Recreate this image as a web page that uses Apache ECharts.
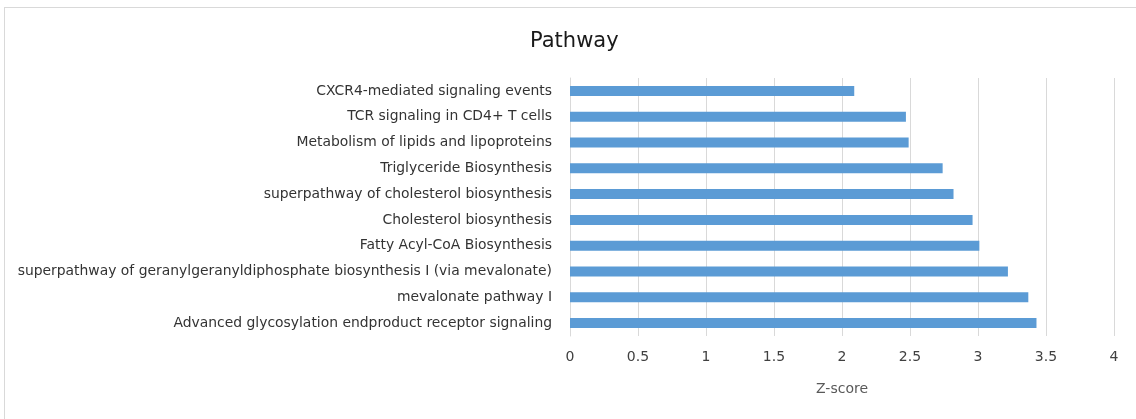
<!DOCTYPE html>
<html><head><meta charset="utf-8">
<script src="https://cdn.jsdelivr.net/npm/echarts@6/dist/echarts.min.js"></script>
<style>
html,body{margin:0;padding:0;background:#fff;overflow:hidden}
#frame{position:absolute;left:4px;top:7px;width:1140px;height:420px;border:1px solid #d9d9d9;box-sizing:border-box}
#chart{position:absolute;left:0;top:0;width:1136px;height:419px}
</style></head>
<body>
<div id="frame"></div>
<div id="chart"></div>
<script>
const categories = [
  "CXCR4-mediated signaling events",
  "TCR signaling in CD4+ T cells",
  "Metabolism of lipids and lipoproteins",
  "Triglyceride Biosynthesis",
  "superpathway of cholesterol biosynthesis",
  "Cholesterol biosynthesis",
  "Fatty Acyl-CoA Biosynthesis",
  "superpathway of geranylgeranyldiphosphate biosynthesis I (via mevalonate)",
  "mevalonate pathway I",
  "Advanced glycosylation endproduct receptor signaling"
];
const zScores = [2.09, 2.47, 2.49, 2.74, 2.82, 2.96, 3.01, 3.22, 3.37, 3.43];
const xTicks = { min: 0, max: 4, interval: 0.5 };

const font = '"DejaVu Sans", "Noto Sans", sans-serif';
const chart = echarts.init(document.getElementById('chart'));
chart.setOption({
  animation: false,
  backgroundColor: 'transparent',
  title: {
    text: 'Pathway', left: 525, top: 26,
    textStyle: { fontFamily: font, fontSize: 21, fontWeight: 'normal', color: '#1a1a1a' }
  },
  grid: { left: 570, right: 22, top: 78, bottom: 83 },
  xAxis: {
    type: 'value', min: xTicks.min, max: xTicks.max, interval: xTicks.interval,
    name: 'Z-score', nameLocation: 'middle', nameGap: 46,
    nameTextStyle: { fontFamily: font, fontSize: 14, color: '#595959' },
    axisLine: { show: false }, axisTick: { show: false },
    axisLabel: { fontFamily: font, fontSize: 14, color: '#404040', margin: 14 },
    splitLine: { show: true, lineStyle: { color: '#d9d9d9', width: 1 } }
  },
  yAxis: {
    type: 'category', data: categories, inverse: true,
    axisLine: { show: true, lineStyle: { color: '#d9d9d9' } },
    axisTick: { show: false },
    axisLabel: { fontFamily: font, fontSize: 13.9, color: '#333333', margin: 18 }
  },
  series: [{
    type: 'bar', data: zScores, barWidth: 10,
    itemStyle: { color: '#5B9BD5' }
  }]
});
</script>
</body></html>
